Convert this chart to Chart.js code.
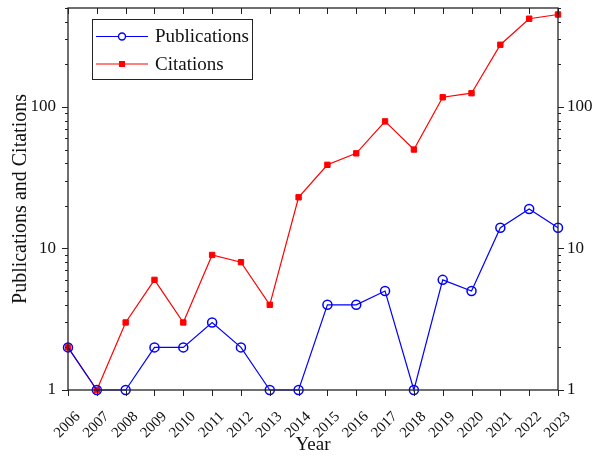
<!DOCTYPE html>
<html>
<head>
<meta charset="utf-8">
<script src="https://cdn.jsdelivr.net/npm/chart.js@4"></script>
<style>
  html, body { margin: 0; padding: 0; background: #fff; }
  canvas { display: block; }
</style>
</head>
<body>
<canvas id="c" width="596" height="458"></canvas>
<script>
const years = ['2006','2007','2008','2009','2010','2011','2012','2013','2014','2015','2016','2017','2018','2019','2020','2021','2022','2023'];
const publications = [2, 1, 1, 2, 2, 3, 2, 1, 1, 4, 4, 5, 1, 6, 5, 14, 19, 14];
const citations = [2, 1, 3, 6, 3, 9, 8, 4, 23, 39, 47, 79, 50, 117, 125, 275, 420, 450];
const yMajorTicks = [1, 10, 100];
const yMin = 1, yMax = 500;

const FONT = "'Liberation Serif', 'Times New Roman', serif";
const AXIS = '#222';

const framePlugin = {
  id: 'frame',
  afterDatasetsDraw(chart) {
    const ctx = chart.ctx;
    const a = chart.chartArea;
    const x = chart.scales.x, y = chart.scales.y;
    ctx.save();
    ctx.strokeStyle = AXIS;
    ctx.lineWidth = 1.3;
    ctx.strokeRect(a.left, a.top, a.right - a.left, a.bottom - a.top);
    ctx.lineWidth = 1;
    ctx.beginPath();
    for (let d = 1; d <= yMax; d *= 10) {
      for (let m = 1; m <= 9; m++) {
        const v = d * m;
        if (v < yMin || v > yMax) continue;
        const py = Math.round(y.getPixelForValue(v)) + 0.5;
        const len = yMajorTicks.includes(v) ? 6 : 3;
        ctx.moveTo(a.left - len, py); ctx.lineTo(a.left, py);
        ctx.moveTo(a.right, py); ctx.lineTo(a.right + len, py);
      }
    }
    years.forEach((lab, i) => {
      const px = Math.round(x.getPixelForValue(i)) + 0.5;
      ctx.moveTo(px, a.bottom); ctx.lineTo(px, a.bottom + 6);
      ctx.moveTo(px, a.top); ctx.lineTo(px, a.top + 6);
    });
    ctx.stroke();
    ctx.restore();
  },
  afterDraw(chart) {
    const ctx = chart.ctx;
    const bx = 92.5, by = 19.5, bw = 160, bh = 60;
    ctx.save();
    ctx.fillStyle = '#fff';
    ctx.fillRect(bx, by, bw, bh);
    ctx.strokeStyle = AXIS;
    ctx.lineWidth = 1;
    ctx.strokeRect(bx, by, bw, bh);
    const rows = [36.5, 64];
    chart.data.datasets.forEach((ds, i) => {
      const ry = rows[i];
      ctx.strokeStyle = ds.borderColor;
      ctx.lineWidth = 1.2;
      ctx.beginPath();
      ctx.moveTo(96, ry); ctx.lineTo(148, ry);
      ctx.stroke();
      if (ds.pointStyle === 'circle') {
        ctx.beginPath();
        ctx.arc(122, ry, 3.5, 0, Math.PI * 2);
        ctx.fillStyle = '#fff';
        ctx.fill();
        ctx.lineWidth = 1.4;
        ctx.strokeStyle = ds.pointBorderColor;
        ctx.stroke();
      } else {
        ctx.fillStyle = ds.pointBackgroundColor;
        ctx.fillRect(122 - 3, ry - 3, 6, 6);
      }
      ctx.fillStyle = '#111';
      ctx.font = '19px ' + FONT;
      ctx.textBaseline = 'middle';
      ctx.textAlign = 'left';
      ctx.fillText(ds.label, 155, ry + 1);
    });
    ctx.restore();
  }
};

const tickFont = { family: FONT, size: 17 };
function noPad(s) { s.paddingTop = 0; s.paddingBottom = 0; s.paddingLeft = 0; s.paddingRight = 0; }

new Chart(document.getElementById('c'), {
  type: 'line',
  data: {
    labels: years,
    datasets: [
      {
        label: 'Publications',
        data: publications,
        borderColor: '#0000ff',
        borderWidth: 1.2,
        pointStyle: 'circle',
        pointRadius: 4.5,
        pointBorderWidth: 1.5,
        pointBorderColor: '#0000ff',
        pointBackgroundColor: 'rgba(0,0,0,0)',
        tension: 0,
        clip: false,
        yAxisID: 'y'
      },
      {
        label: 'Citations',
        data: citations,
        borderColor: '#ff0000',
        borderWidth: 1.2,
        pointStyle: 'rect',
        pointRadius: 3.8,
        pointBorderWidth: 1,
        pointBorderColor: '#ff0000',
        pointBackgroundColor: '#ff0000',
        tension: 0,
        clip: false,
        yAxisID: 'y'
      }
    ]
  },
  options: {
    responsive: false,
    animation: false,
    devicePixelRatio: 1,
    layout: { padding: { top: 8, left: 0, right: 0, bottom: 0 } },
    plugins: { legend: { display: false }, tooltip: { enabled: false } },
    scales: {
      x: {
        type: 'category',
        offset: false,
        grid: { display: true, drawOnChartArea: false, color: 'rgba(0,0,0,0)', tickLength: 6 },
        border: { display: false },
        ticks: { font: { family: FONT, size: 15 }, color: '#111', minRotation: 45, maxRotation: 45, autoSkip: false, padding: 12, labelOffset: 10 },
        title: { display: true, text: 'Year', font: { family: FONT, size: 19 }, color: '#111', padding: { top: 0, bottom: 2 } },
        afterFit(s) { s.height = 68; noPad(s); }
      },
      y: {
        type: 'logarithmic',
        position: 'left',
        min: yMin, max: yMax,
        grid: { display: true, drawOnChartArea: false, color: 'rgba(0,0,0,0)', tickLength: 6 },
        border: { display: false },
        afterBuildTicks(s) { s.ticks = yMajorTicks.map(v => ({ value: v, major: true })); },
        ticks: { font: tickFont, color: '#111', padding: 6, autoSkip: false, callback: v => String(v) },
        title: { display: true, text: 'Publications and Citations', font: { family: FONT, size: 20 }, color: '#111', padding: { top: 9, bottom: 0 } },
        afterFit(s) { s.width = 68; noPad(s); }
      },
      y2: {
        type: 'logarithmic',
        position: 'right',
        min: yMin, max: yMax,
        grid: { display: true, drawOnChartArea: false, color: 'rgba(0,0,0,0)', tickLength: 6 },
        border: { display: false },
        afterBuildTicks(s) { s.ticks = yMajorTicks.map(v => ({ value: v, major: true })); },
        ticks: { font: tickFont, color: '#111', padding: 3, autoSkip: false, callback: v => String(v) },
        afterFit(s) { s.width = 38; noPad(s); }
      }
    }
  },
  plugins: [framePlugin]
});
</script>
</body>
</html>
